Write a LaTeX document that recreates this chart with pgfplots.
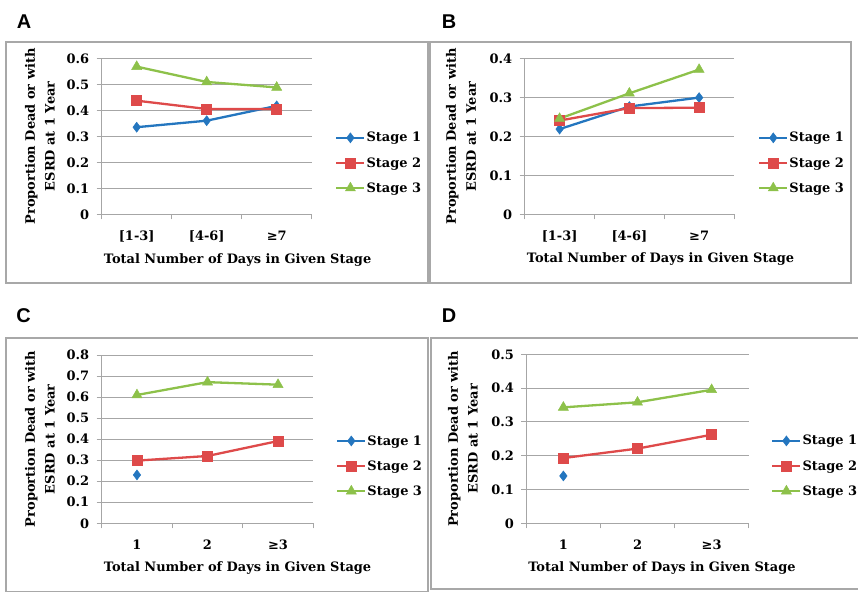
\documentclass[border=0pt]{standalone}
\usepackage{fontspec}
\setmainfont{DejaVu Serif}
\newfontfamily\panelfont{Liberation Sans}
\usepackage{pgfplots}
\pgfplotsset{compat=1.18}
\definecolor{sone}{HTML}{2476BF}
\definecolor{stwo}{HTML}{DE4A4A}
\definecolor{sthree}{HTML}{8DC14A}
\definecolor{gridgray}{HTML}{A6A6A6}
\definecolor{framegray}{HTML}{A8A8A8}
\newcommand{\lbl}{\fontsize{13}{20}\selectfont\bfseries}

\pgfplotsset{
  panel/.style={
    scale only axis,
    xmin=0.5, xmax=3.5, ymin=0,
    axis lines*=left,
    axis line style={draw=gridgray, line width=0.8bp},
    ymajorgrids,
    grid style={draw=gridgray, line width=0.8bp},
    tick align=outside,
    major tick length=5bp,
    tick style={draw=gridgray, line width=0.8bp},
    xtick={0.5,1.5,2.5,3.5},
    xticklabels={},
    extra x ticks={1,2,3},
    extra x tick style={major tick length=0pt, grid=none},
    xticklabel style={yshift=-13bp},
    /pgf/number format/assume math mode=true,
    yticklabel style={/pgf/number format/fixed, /pgf/number format/precision=1, xshift=-4bp},
    tick label style={font=\lbl},
    label style={font=\lbl},
    ylabel={Proportion Dead or with\\ESRD at 1 Year},
    ylabel style={align=center, anchor=center},
    xlabel={Total Number of Days in Given Stage},
    xlabel style={anchor=center},
    legend cell align=left,
    legend style={anchor=west, draw=none, fill=none, font=\lbl,
      row sep=12bp, nodes={inner sep=1bp}},
    legend image code/.code={
      \draw[mark repeat=2,mark phase=2,#1] plot coordinates {(0bp,0bp) (14bp,0bp) (28bp,0bp)};},
  },
  s1/.style={color=sone, line width=2.3bp, mark=diamond*, mark size=5bp, mark options={solid, line width=0.5bp}},
  s2/.style={color=stwo, line width=2.3bp, mark=square*, mark size=5bp, mark options={solid, line width=0.5bp}},
  s3/.style={color=sthree, line width=2.3bp, mark=triangle*, mark size=5.8bp, mark options={solid, line width=0.5bp}},
}

\begin{document}
\begin{tikzpicture}[x=1bp, y=1bp]
\useasboundingbox (0,0) rectangle (858,593);
\coordinate (pA) at (101.7,378.7);
\coordinate (pB) at (524.7,378.7);
\coordinate (pC) at (101.7,69.7);
\coordinate (pD) at (526.3,69.7);

% panel frames
\draw[framegray, line width=1.3bp] (6,310) rectangle (428,551);
\draw[framegray, line width=1.3bp] (430,310) rectangle (851,551);
\draw[framegray, line width=1.3bp] (6,1.5) rectangle (428,255);
\draw[framegray, line width=1.3bp] (862,4) -- (431,4) -- (431,255) -- (862,255);

% panel letters
\node[font=\panelfont\fontsize{20}{22}\selectfont\bfseries] at (24,571) {A};
\node[font=\panelfont\fontsize{20}{22}\selectfont\bfseries] at (449,571) {B};
\node[font=\panelfont\fontsize{20}{22}\selectfont\bfseries] at (23.5,277) {C};
\node[font=\panelfont\fontsize{20}{22}\selectfont\bfseries] at (449,277) {D};

% A
\begin{axis}[panel, at={(pA)}, anchor=south west,
  width=210bp, height=156bp, ymax=0.6, ytick={0,0.1,...,0.6},
  extra x tick labels={{[1-3]},{[4-6]},{≥7}},
  ylabel style={at={(axis description cs:-0.294,0.5)}},
  xlabel style={at={(axis description cs:0.647,-0.29)}},
  legend style={at={(axis description cs:1.097,0.329)}}]
\addplot[s1] coordinates {(1,0.335) (2,0.360) (3,0.417)};
\addplot[s2] coordinates {(1,0.437) (2,0.405) (3,0.405)};
\addplot[s3] coordinates {(1,0.568) (2,0.509) (3,0.488)};
\legend{Stage 1,Stage 2,Stage 3}
\end{axis}

% B
\begin{axis}[panel, at={(pB)}, anchor=south west,
  width=209.3bp, height=155.6bp, ymax=0.4, ytick={0,0.1,...,0.4},
  extra x tick labels={{[1-3]},{[4-6]},{≥7}},
  ylabel style={at={(axis description cs:-0.304,0.5)}},
  xlabel style={at={(axis description cs:0.649,-0.29)}},
  legend style={at={(axis description cs:1.10,0.33)}}]
\addplot[s1] coordinates {(1,0.219) (2,0.277) (3,0.300)};
\addplot[s2] coordinates {(1,0.241) (2,0.273) (3,0.274)};
\addplot[s3] coordinates {(1,0.246) (2,0.311) (3,0.372)};
\legend{Stage 1,Stage 2,Stage 3}
\end{axis}

% C
\begin{axis}[panel, at={(pC)}, anchor=south west,
  width=211.6bp, height=168.3bp, ymax=0.8, ytick={0,0.1,...,0.8},
  extra x tick labels={1,2,{≥3}},
  ylabel style={at={(axis description cs:-0.292,0.5)}},
  xlabel style={at={(axis description cs:0.642,-0.265)}},
  legend style={at={(axis description cs:1.093,0.34)}}]
\addplot[s1] coordinates {(1,0.230)};
\addplot[s2] coordinates {(1,0.298) (2,0.320) (3,0.391)};
\addplot[s3] coordinates {(1,0.610) (2,0.671) (3,0.659)};
\legend{Stage 1,Stage 2,Stage 3}
\end{axis}

% D
\begin{axis}[panel, at={(pD)}, anchor=south west,
  width=222.4bp, height=169bp, ymax=0.5, ytick={0,0.1,...,0.5},
  extra x tick labels={1,2,{≥3}},
  ylabel style={at={(axis description cs:-0.285,0.5)}},
  xlabel style={at={(axis description cs:0.61,-0.265)}},
  legend style={at={(axis description cs:1.087,0.339)}}]
\addplot[s1] coordinates {(1,0.140)};
\addplot[s2] coordinates {(1,0.193) (2,0.221) (3,0.262)};
\addplot[s3] coordinates {(1,0.343) (2,0.358) (3,0.395)};
\legend{Stage 1,Stage 2,Stage 3}
\end{axis}
\end{tikzpicture}
\end{document}
